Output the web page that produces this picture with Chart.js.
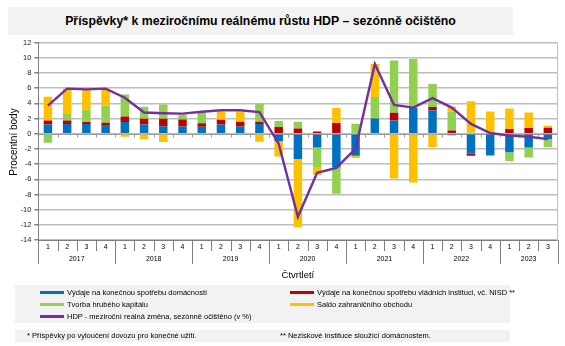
<!DOCTYPE html>
<html lang="cs">
<head>
<meta charset="utf-8">
<title>Příspěvky k meziročnímu reálnému růstu HDP</title>
<script src="https://cdn.jsdelivr.net/npm/chart.js@4.4.1/dist/chart.umd.min.js"></script>
<style>
  html, body { margin: 0; padding: 0; background: #fff; }
  body { width: 565px; height: 346px; position: relative; overflow: hidden;
         font-family: "Liberation Sans", Arial, sans-serif; color: #000; }
  #chart { position: absolute; left: 0; top: 0; }
  .band { position: absolute; background: #f2f2f2; }
  #title { left: 8px; top: 7px; width: 505px; height: 28px; line-height: 28px;
           text-align: center; font-weight: bold; font-size: 12.3px; }
  #legend { left: 15px; top: 285px; width: 495px; height: 38px; }
  #notes { left: 15px; top: 330px; width: 495px; height: 12px; }
  .item { position: absolute; font-size: 7.5px; line-height: 10px; white-space: nowrap; }
  .item i { display: inline-block; width: 24px; height: 3px; vertical-align: middle;
            margin-right: 3px; position: relative; top: -1px; }
  .note { position: absolute; font-size: 7.5px; line-height: 12px; white-space: nowrap; top: 0; }
</style>
</head>
<body>
<canvas id="chart" width="565" height="346"></canvas>
<div id="title" class="band">Příspěvky* k meziročnímu reálnému růstu HDP – sezónně očištěno</div>
<div id="legend" class="band"></div>
<div id="notes" class="band">
  <span class="note" style="left:12px">* Příspěvky po vyloučení dovozu pro konečné užití.</span>
  <span class="note" style="left:265px">** Neziskové instituce sloužící domácnostem.</span>
</div>
<script>
// Years and the number of quarters published in each
const years = ['2017', '2018', '2019', '2020', '2021', '2022', '2023'];
const quartersPerYear = [4, 4, 4, 4, 4, 4, 3];
const quarterLabels = ['1', '2', '3', '4'];

// Contributions to year-on-year real GDP growth (percentage points)
const households = [
  1.23, 1.30, 1.27, 1.14,
  1.54, 1.23, 1.00, 0.97,
  0.92, 1.23, 0.97, 1.27,
  -1.00, -3.34, -1.80, -4.40,
  -2.90, 2.02, 1.76, 3.40,
  3.08, -0.18, -2.64, -2.86,
  -2.42, -1.80, -0.70
];
const government = [
  0.53, 0.45, 0.27, 0.31,
  0.75, 0.75, 0.98, 0.92,
  0.48, 0.62, 0.61, 0.31,
  0.88, 0.70, 0.30, 1.41,
  0.00, 0.00, 1.01, 0.00,
  0.44, 0.44, -0.26, 0.00,
  0.62, 0.75, 0.79
];
const capitalFormation = [
  -1.19, 0.85, 1.62, 2.24,
  2.90, 1.58, 1.89, 0.44,
  1.41, 0.00, 0.00, 2.38,
  0.79, 0.88, -2.68, -3.50,
  1.32, 2.82, 6.90, 6.45,
  3.03, 2.46, 0.18, 0.00,
  -1.18, -1.32, -1.06
];
const netExports = [
  3.12, 3.38, 2.69, 2.29,
  -0.40, -0.70, -1.10, 0.22,
  0.00, 1.10, 1.37, -1.05,
  -1.98, -8.97, -0.97, 1.97,
  -0.30, 4.35, -5.89, -6.42,
  -1.76, 0.70, 4.12, 2.95,
  2.72, 2.06, 0.26
];
// Real GDP, year-on-year change, seasonally adjusted (%)
const gdpGrowth = [
  3.70, 5.95, 5.85, 5.95,
  4.75, 2.80, 2.70, 2.65,
  2.90, 3.10, 3.10, 2.85,
  -1.30, -10.95, -5.15, -4.50,
  -1.95, 9.20, 3.80, 3.45,
  4.70, 3.45, 1.30, 0.10,
  -0.25, -0.40, -0.70
];
const yTicks = { min: -14, max: 12, step: 2 };

const seriesNames = [
  'Výdaje na konečnou spotřebu domácností',
  'Výdaje na konečnou spotřebu vládních instituci, vč. NISD **',
  'Tvorba hrubého kapitálu',
  'Saldo zahraničního obchodu',
  'HDP - meziroční reálná změna, sezónně očištěno (v %)'
];
const colors = ['#0070c0', '#c00000', '#92d050', '#ffc000', '#7030a0'];

// Category keys (year + quarter) and the quarter digit shown under each
const categories = [];
const categoryQuarter = [];
years.forEach((y, i) => {
  for (let q = 0; q < quartersPerYear[i]; q++) {
    categories.push(y + '-' + quarterLabels[q]);
    categoryQuarter.push(quarterLabels[q]);
  }
});

// HTML legend
const legendPos = [[25, 3], [275, 3], [25, 15], [275, 15], [25, 27]];
const legendEl = document.getElementById('legend');
seriesNames.forEach((n, i) => {
  const d = document.createElement('div');
  d.className = 'item';
  d.style.left = legendPos[i][0] + 'px';
  d.style.top = legendPos[i][1] + 'px';
  d.innerHTML = '<i style="background:' + colors[i] + '"></i>' + n;
  legendEl.appendChild(d);
});

const FONT = '"Liberation Sans", Arial, sans-serif';

// Two-level category axis, zero axis and plot frame
const axisPlugin = {
  id: 'twoLevelAxis',
  beforeDatasetsDraw(chart) {
    const { ctx, chartArea, scales } = chart;
    const y = scales.y;
    const y0 = Math.round(y.getPixelForValue(0)) + 0.5;
    ctx.save();
    ctx.strokeStyle = '#9a9a9a';
    ctx.lineWidth = 1;
    ctx.beginPath();
    ctx.moveTo(chartArea.left, y0);
    ctx.lineTo(chartArea.right, y0);
    const step = (chartArea.right - chartArea.left) / categories.length;
    for (let i = 1; i < categories.length; i++) {
      const px = Math.round(chartArea.left + i * step) + 0.5;
      ctx.moveTo(px, y0);
      ctx.lineTo(px, y0 + 3);
    }
    ctx.stroke();
    ctx.restore();
  },
  afterDraw(chart) {
    const { ctx, chartArea, scales } = chart;
    const x = scales.x;
    const bottom = chartArea.bottom;
    const step = (chartArea.right - chartArea.left) / categories.length;
    ctx.save();
    ctx.strokeStyle = '#808080';
    ctx.lineWidth = 1;
    // plot frame: bottom and right edges
    ctx.beginPath();
    ctx.moveTo(chartArea.left, Math.round(bottom) + 0.5);
    ctx.lineTo(chartArea.right, Math.round(bottom) + 0.5);
    ctx.stroke();
    ctx.strokeStyle = '#bfbfbf';
    ctx.beginPath();
    ctx.moveTo(Math.round(chartArea.right) - 0.5, chartArea.top);
    ctx.lineTo(Math.round(chartArea.right) - 0.5, bottom);
    ctx.stroke();
    // separators: short between quarters, long between years
    ctx.strokeStyle = '#808080';
    ctx.beginPath();
    const yearStarts = new Set();
    let k = 0;
    quartersPerYear.forEach(n => { yearStarts.add(k); k += n; });
    yearStarts.add(categories.length);
    for (let i = 0; i <= categories.length; i++) {
      const px = Math.round(chartArea.left + i * step) + 0.5;
      ctx.moveTo(px, bottom);
      ctx.lineTo(px, yearStarts.has(i) ? bottom + 24 : bottom + 11);
    }
    ctx.stroke();
    // quarter digits
    ctx.fillStyle = '#000';
    ctx.font = '7px ' + FONT;
    ctx.textAlign = 'center';
    ctx.textBaseline = 'middle';
    categories.forEach((c, i) => {
      ctx.fillText(categoryQuarter[i], x.getPixelForValue(i), bottom + 7);
    });
    // year labels centred under their quarters
    k = 0;
    years.forEach((yr, j) => {
      const a = chartArea.left + k * step;
      k += quartersPerYear[j];
      const b = chartArea.left + k * step;
      ctx.fillText(yr, (a + b) / 2, bottom + 19);
    });
    // axis titles
    ctx.font = '9.5px ' + FONT;
    ctx.fillText('Čtvrtletí', (chartArea.left + chartArea.right) / 2, 275);
    ctx.translate(14.5, 142);
    ctx.rotate(-Math.PI / 2);
    ctx.font = '10px ' + FONT;
    ctx.fillText('Procentní body', 0, 0);
    ctx.restore();
  }
};

const barDefaults = { categoryPercentage: 1, barPercentage: 0.44, stack: 's', order: 1, borderWidth: 0 };

new Chart(document.getElementById('chart'), {
  data: {
    labels: categories,
    datasets: [
      Object.assign({ type: 'bar', label: seriesNames[0], data: households, backgroundColor: colors[0] }, barDefaults),
      Object.assign({ type: 'bar', label: seriesNames[1], data: government, backgroundColor: colors[1] }, barDefaults),
      Object.assign({ type: 'bar', label: seriesNames[2], data: capitalFormation, backgroundColor: colors[2] }, barDefaults),
      Object.assign({ type: 'bar', label: seriesNames[3], data: netExports, backgroundColor: colors[3] }, barDefaults),
      { type: 'line', label: seriesNames[4], data: gdpGrowth, borderColor: colors[4], borderWidth: 2.4,
        pointRadius: 0, tension: 0, fill: false, order: 0 }
    ]
  },
  options: {
    responsive: false,
    animation: false,
    events: [],
    layout: { autoPadding: false, padding: { left: 0, right: 7.5, top: 42.7, bottom: 0 } },
    plugins: { legend: { display: false }, tooltip: { enabled: false }, title: { display: false } },
    scales: {
      x: {
        type: 'category',
        stacked: true,
        offset: true,
        grid: { display: false },
        border: { display: false },
        ticks: { display: false },
        afterFit(s) { s.height = 346 - 240; }
      },
      y: {
        stacked: true,
        min: yTicks.min,
        max: yTicks.max,
        afterBuildTicks(s) {
          const t = [];
          for (let v = yTicks.min; v <= yTicks.max; v += yTicks.step) t.push({ value: v });
          s.ticks = t;
        },
        grid: { color: '#bdbdbd', lineWidth: 1.5, drawTicks: true, tickLength: 4, tickColor: '#808080' },
        border: { display: true, color: '#808080', width: 1 },
        ticks: { font: { family: FONT, size: 7.5 }, color: '#222', padding: 3 },
        afterFit(s) { s.width = 38.3; }
      }
    }
  },
  plugins: [axisPlugin]
});
</script>
</body>
</html>
